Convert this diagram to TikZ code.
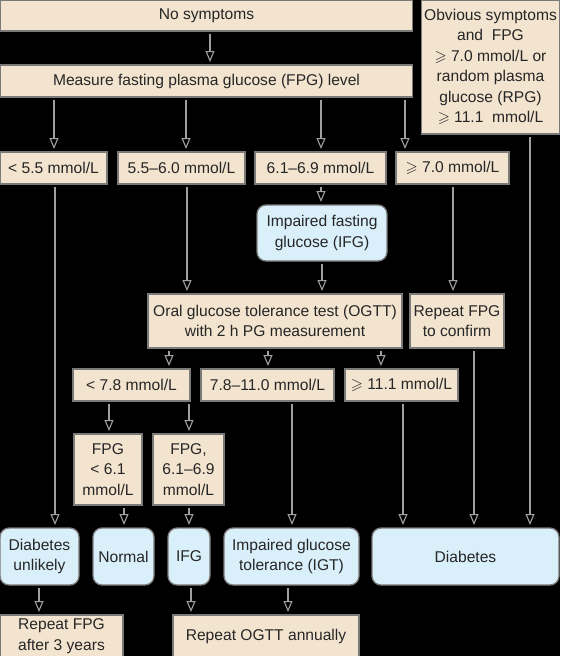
\documentclass[tikz,border=0pt]{standalone}
\usepackage{amssymb}
\usepackage{fontspec}
\setmainfont{Liberation Sans}
\usetikzlibrary{arrows.meta}
\definecolor{beige}{HTML}{F3E4CF}
\definecolor{lblue}{HTML}{D9EFFA}
\definecolor{bord}{HTML}{7A7A7A}
\definecolor{conn}{HTML}{A0A0A0}
\definecolor{txt}{HTML}{262626}
\newcommand{\geqs}{\ensuremath{\geqslant}}
\begin{document}
\begin{tikzpicture}[x=1pt,y=-1pt,
  every node/.style={inner sep=0pt, outer sep=0pt, align=center, text=txt,
    font=\fontsize{15.6}{20.5}\selectfont, line width=1.3pt},
  bbox/.style={draw=bord, fill=beige, rectangle},
  ubox/.style={draw=bord, fill=lblue, rounded corners=9pt},
  arr/.style={draw=conn, line width=1.1pt, shorten >=3pt, shorten <=3pt,
    -{Triangle[length=11pt,width=9pt,fill=black,line width=1.1pt]}}
]
\fill[black] (0,0) rectangle (560,656);
\useasboundingbox (0,0) rectangle (560,656);
% top
\node[bbox, minimum width=412pt, minimum height=31pt] (nosym) at (206.5,15.5) {No symptoms};
\node[bbox, minimum width=412pt, minimum height=32pt] (fpg) at (206.5,81) {Measure fasting plasma glucose (FPG) level};
\node[bbox, minimum width=138pt, minimum height=134pt] (obv) at (490.5,67) {Obvious symptoms\\and\ \ FPG\\\geqs{} 7.0 mmol/L or\\random plasma\\glucose (RPG)\\\geqs{} 11.1\ \ mmol/L};
% row 1
\node[bbox, minimum width=107pt, minimum height=32pt] (r1) at (53.5,168) {< 5.5 mmol/L};
\node[bbox, minimum width=127pt, minimum height=32pt] (r2) at (181.5,168) {5.5–6.0 mmol/L};
\node[bbox, minimum width=131pt, minimum height=32pt] (r3) at (320.5,168) {6.1–6.9 mmol/L};
\node[bbox, minimum width=113pt, minimum height=32pt] (r4) at (452.5,168) {\geqs{} 7.0 mmol/L};
% IFG
\node[ubox, minimum width=130pt, minimum height=56pt] (ifg) at (322,233) {Impaired fasting\\glucose (IFG)};
% OGTT
\node[bbox, minimum width=254pt, minimum height=54pt] (ogtt) at (275,321) {Oral glucose tolerance test (OGTT)\\with 2 h PG measurement};
\node[bbox, minimum width=94pt, minimum height=54pt] (rep) at (457,321) {Repeat FPG\\to confirm};
% row s
\node[bbox, minimum width=117pt, minimum height=32pt] (s1) at (131.5,385) {< 7.8 mmol/L};
\node[bbox, minimum width=133pt, minimum height=32pt] (s2) at (267.5,385) {7.8–11.0 mmol/L};
\node[bbox, minimum width=113pt, minimum height=32pt] (s3) at (401.5,385) {\geqs{} 11.1 mmol/L};
% FPG sub
\node[bbox, minimum width=68pt, minimum height=71pt] (f1) at (108,469.5) {FPG\\< 6.1\\mmol/L};
\node[bbox, minimum width=71pt, minimum height=71pt] (f2) at (188.5,469.5) {FPG,\\6.1–6.9\\mmol/L};
% outcomes
\node[ubox, minimum width=79pt, minimum height=57pt] (du) at (39.5,556.5) {Diabetes\\unlikely};
\node[ubox, minimum width=61pt, minimum height=57pt] (nor) at (123.5,556.5) {Normal};
\node[ubox, minimum width=42pt, minimum height=57pt] (ifgb) at (189,556.5) {IFG};
\node[ubox, minimum width=135pt, minimum height=57pt] (igt) at (291.5,556.5) {Impaired glucose\\tolerance (IGT)};
\node[ubox, minimum width=187pt, minimum height=57pt] (dia) at (465.5,556.5) {Diabetes};
% follow-up
\node[bbox, minimum width=123pt, minimum height=42pt] (rf3) at (61.5,636) {Repeat FPG\\after 3 years};
\node[bbox, minimum width=186pt, minimum height=42pt] (rog) at (266,636) {Repeat OGTT annually};
% connectors
\draw[arr] (nosym.south -| 210,0) -- (fpg.north -| 210,0);
\draw[arr] (fpg.south -| 54,0) -- (r1.north -| 54,0);
\draw[arr] (fpg.south -| 186,0) -- (r2.north -| 186,0);
\draw[arr] (fpg.south -| 321,0) -- (r3.north -| 321,0);
\draw[arr] (fpg.south -| 405,0) -- (r4.north -| 405,0);
\draw[arr] (r3.south -| 321,0) -- (ifg.north -| 321,0);
\draw[arr] (ifg.south -| 322,0) -- (ogtt.north -| 322,0);
\draw[arr] (r2.south -| 187,0) -- (ogtt.north -| 187,0);
\draw[arr] (r4.south -| 453,0) -- (rep.north -| 453,0);
\draw[arr] (ogtt.south -| 169,0) -- (s1.north -| 169,0);
\draw[arr] (ogtt.south -| 268,0) -- (s2.north -| 268,0);
\draw[arr] (ogtt.south -| 381,0) -- (s3.north -| 381,0);
\draw[arr] (s1.south -| 109,0) -- (f1.north -| 109,0);
\draw[arr] (s1.south -| 189,0) -- (f2.north -| 189,0);
\draw[arr] (r1.south -| 55,0) -- (du.north -| 55,0);
\draw[arr] (f1.south -| 124,0) -- (nor.north -| 124,0);
\draw[arr] (f2.south -| 189,0) -- (ifgb.north -| 189,0);
\draw[arr] (s2.south -| 292,0) -- (igt.north -| 292,0);
\draw[arr] (s3.south -| 403,0) -- (dia.north -| 403,0);
\draw[arr] (rep.south -| 474,0) -- (dia.north -| 474,0);
\draw[arr] (obv.south -| 530,0) -- (dia.north -| 530,0);
\draw[arr] (du.south -| 39,0) -- (rf3.north -| 39,0);
\draw[arr] (ifgb.south -| 191,0) -- (rog.north -| 191,0);
\draw[arr] (igt.south -| 288,0) -- (rog.north -| 288,0);
\end{tikzpicture}
\end{document}
